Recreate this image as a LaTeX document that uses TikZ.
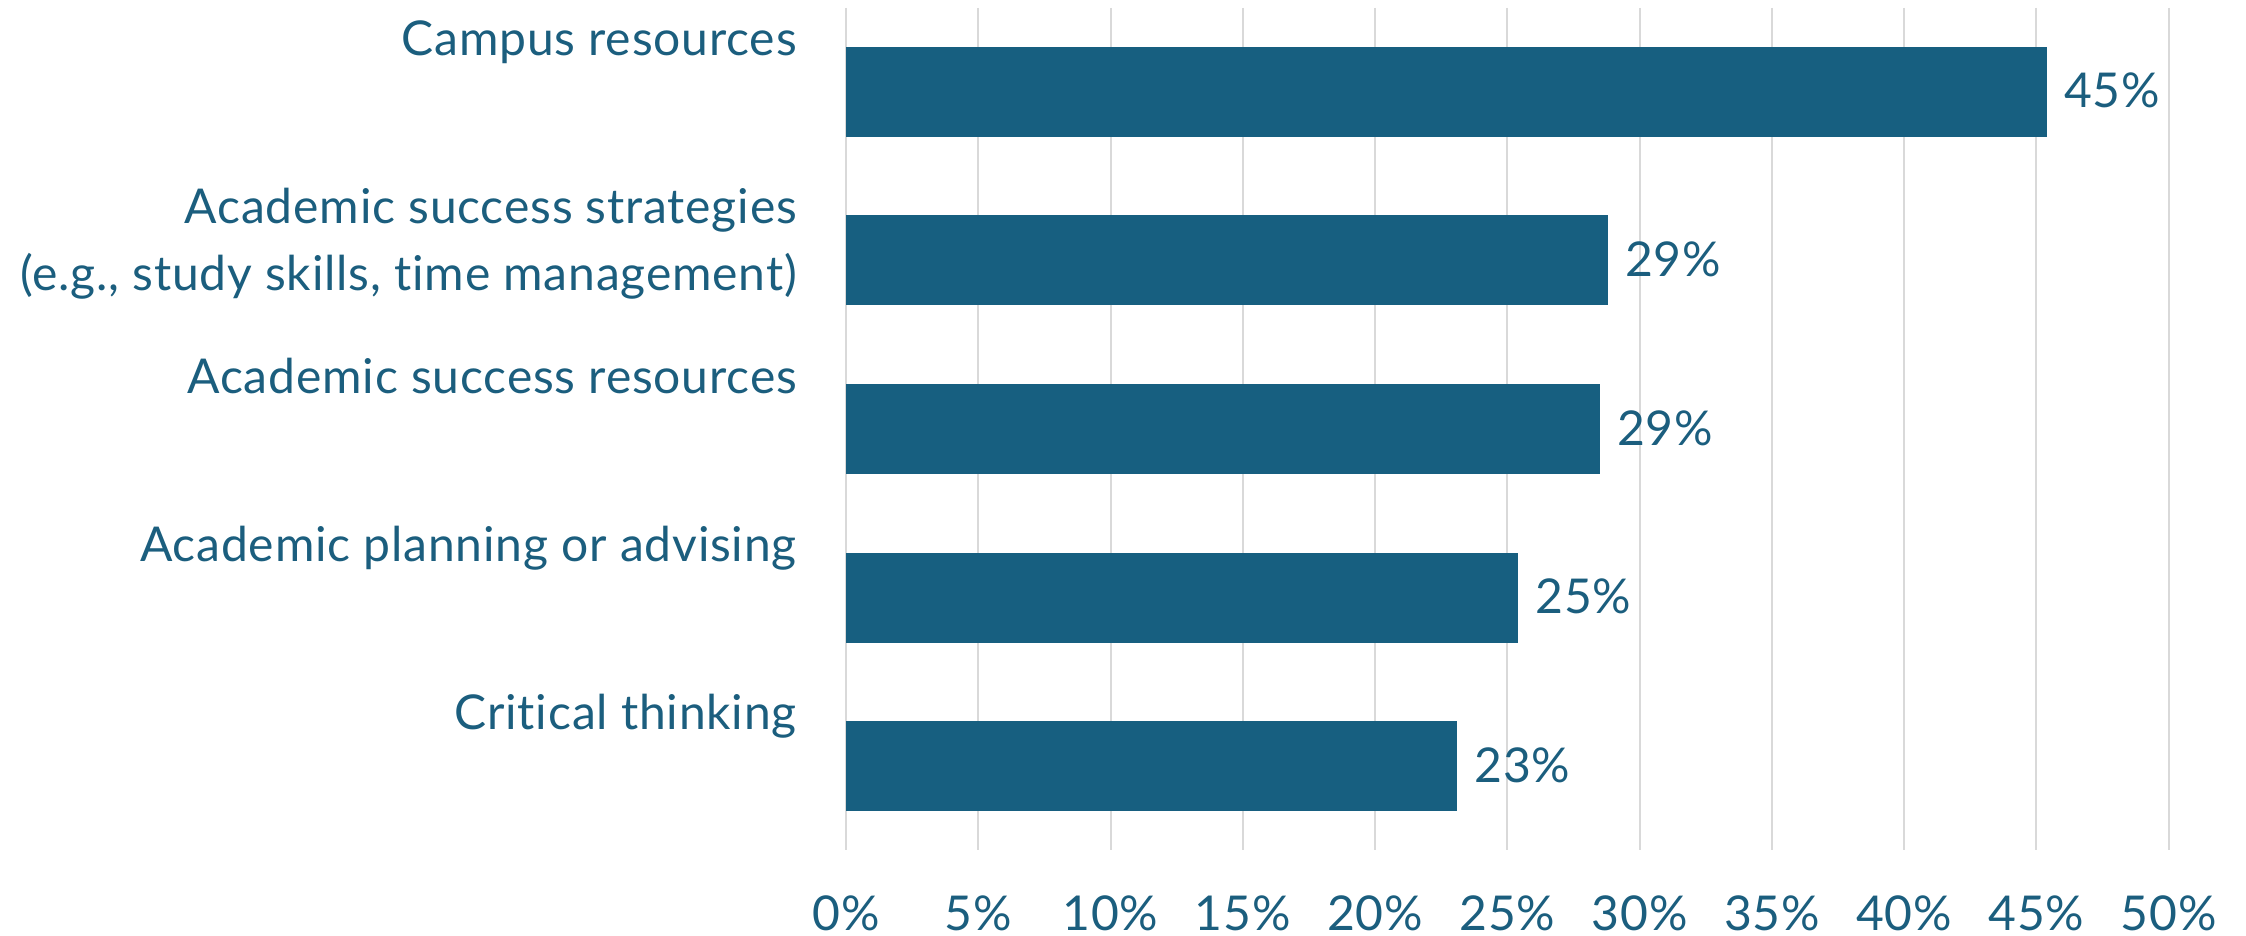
\documentclass[tikz,border=0pt]{standalone}
\usepackage{fontspec}
\setmainfont[LetterSpace=1.7,Ligatures={NoCommon}]{Lato}
\usetikzlibrary{calc}
\definecolor{barc}{HTML}{175F80}
\definecolor{txtc}{HTML}{1B5E7E}
\definecolor{gridc}{HTML}{D9D9D9}
\begin{document}
\begin{tikzpicture}[x=1pt,y=-1pt,
  barbox/.style={fill=barc, draw=none, inner sep=0pt, outer sep=0pt, anchor=west, minimum height=90.5pt},
  lbl/.style={text=txtc, font=\fontsize{48}{58}\selectfont, inner sep=0pt},
  val/.style={lbl, anchor=base west},
  cat/.style={lbl, anchor=base east},
  tick/.style={lbl, anchor=base},
  gridl/.style={draw=gridc, line width=2pt}]
\useasboundingbox (0,0) rectangle (2246,936);
\fill[white] (0,0) rectangle (2246,936);
% grid and ticks
\foreach \i in {0,...,10}{
  \coordinate (gt\i) at (846+132.27*\i,8);
  \coordinate (gb\i) at (846+132.27*\i,850);
  \draw[gridl] (gt\i) -- (gb\i);
  \node[tick] (t\i) at (846+132.27*\i,930) {\the\numexpr5*\i\relax\%};
}
% bars
\node[barbox, minimum width=1201pt] (b1) at (846,92) {};
\node[barbox, minimum width=762pt] (b2) at (846,260.2) {};
\node[barbox, minimum width=754pt] (b3) at (846,429) {};
\node[barbox, minimum width=672.3pt] (b4) at (846,597.8) {};
\node[barbox, minimum width=611.3pt] (b5) at (846,766) {};
% values
\node[val] (v1) at ($(b1.east)+(17,16)$) {45\%};
\node[val] (v2) at ($(b2.east)+(17,16)$) {29\%};
\node[val] (v3) at ($(b3.east)+(17,16)$) {29\%};
\node[val] (v4) at ($(b4.east)+(17,16)$) {25\%};
\node[val] (v5) at ($(b5.east)+(17,16)$) {23\%};
% categories
\node[cat] (c1) at (797,56) {Campus resources};
\node[cat] (c2a) at (797,224) {Academic success strategies};
\node[cat] (c2b) at (797,290) {(e.g., study skills, time management)};
\node[cat] (c3) at (797,393) {Academic success resources};
\node[cat] (c4) at (797,561) {Academic planning or advising};
\node[cat] (c5) at (797,729) {Critical thinking};
\end{tikzpicture}
\end{document}
